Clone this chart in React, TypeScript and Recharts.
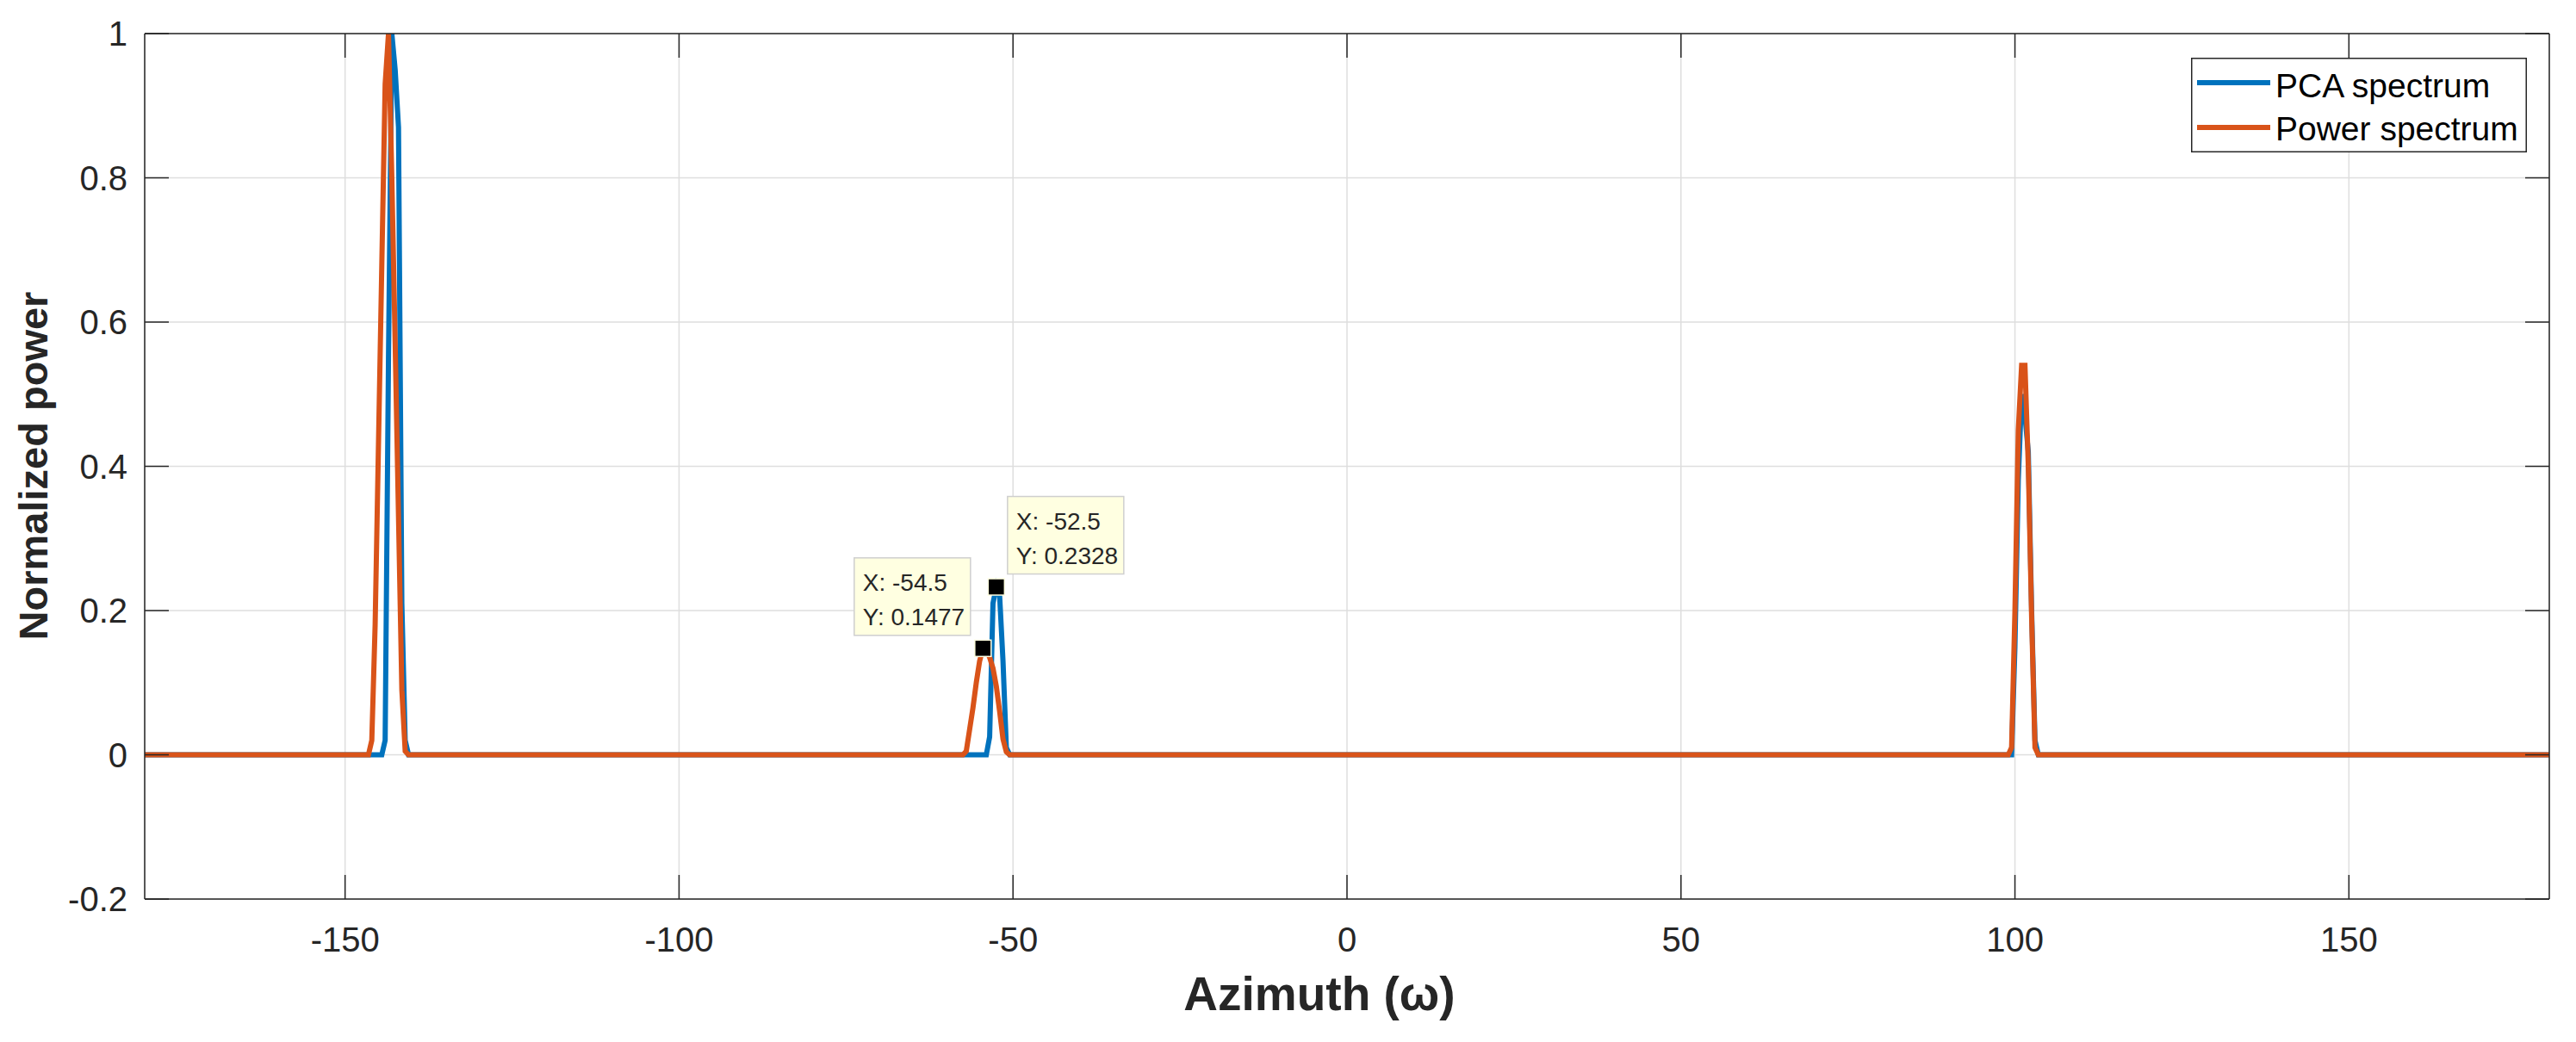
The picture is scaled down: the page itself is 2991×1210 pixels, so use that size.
import React from 'react';
import {
  LineChart,
  Line,
  XAxis,
  YAxis,
  CartesianGrid,
  Legend,
  ReferenceDot,
} from 'recharts';

const pcaAngles = [
  -180, -144.5, -144, -143.5, -143, -142.5, -142, -141.5, -141, -140.5,
  -54, -53.5, -53, -52.5, -52, -51.5, -51, -50.5,
  99.5, 100, 100.5, 101, 101.5, 102, 102.5, 103, 103.5, 180,
];
const pcaValues = [
  0, 0, 0.02, 0.55, 1.0, 0.95, 0.87, 0.21, 0.02, 0,
  0, 0.025, 0.21, 0.2328, 0.22, 0.13, 0.01, 0,
  0, 0.15, 0.38, 0.5, 0.47, 0.42, 0.2, 0.02, 0, 0,
];

const powerAngles = [
  -180, -146.5, -146, -145.5, -145, -144.5, -144, -143.5, -143, -142.5, -142, -141.5, -141, -140.5,
  -57.5, -57, -56.5, -56, -55.5, -55, -54.5, -54, -53.5, -53, -52.5, -52, -51.5, -51, -50.5,
  99, 99.5, 100, 100.5, 101, 101.5, 102, 102.5, 103, 103.5, 180,
];
const powerValues = [
  0, 0, 0.02, 0.18, 0.43, 0.68, 0.93, 1.0, 0.8, 0.57, 0.33, 0.09, 0.005, 0,
  0, 0.005, 0.035, 0.065, 0.1, 0.13, 0.1477, 0.145, 0.135, 0.12, 0.095, 0.06, 0.022, 0.004, 0,
  0, 0.01, 0.2, 0.45, 0.54, 0.54, 0.4, 0.19, 0.01, 0, 0,
];

const xTicks = [-150, -100, -50, 0, 50, 100, 150];
const yTicks = [-0.2, 0, 0.2, 0.4, 0.6, 0.8, 1];

const tipAngles = [-54.5, -52.5];
const tipValues = [0.1477, 0.2328];

const BLUE = '#0072BD';
const ORANGE = '#D95319';
const AXIS = '#262626';
const FONT = '"Liberation Sans", Arial, sans-serif';

const pcaData = pcaAngles.map((x, i) => ({ x, y: pcaValues[i] }));
const powerData = powerAngles.map((x, i) => ({ x, y: powerValues[i] }));

const DataTip = (props: any) => {
  const { cx, cy, tx, ty, side } = props;
  const w = 135;
  const h = 90;
  const bx = side === 'left' ? cx - 14.5 - w : cx + 13;
  const by = cy - 15 - h;
  return (
    <g>
      <rect x={bx} y={by} width={w} height={h} fill="#FFFFE1" stroke="#CFCFCF" strokeWidth={1.5} />
      <text x={bx + 10} y={by + 38} fontSize={28} fill={AXIS} fontFamily={FONT}>
        {`X: ${tx}`}
      </text>
      <text x={bx + 10} y={by + 78} fontSize={28} fill={AXIS} fontFamily={FONT}>
        {`Y: ${ty}`}
      </text>
      <rect x={cx - 9.5} y={cy - 9.5} width={19} height={19} fill="#000" stroke="#FFFFE1" strokeWidth={1.5} />
    </g>
  );
};

const LegendBox = () => (
  <svg width={390} height={110} style={{ display: 'block' }}>
    <rect x={0.75} y={0.75} width={388.5} height={108.5} fill="#fff" stroke={AXIS} strokeWidth={1.5} />
    <line x1={7} x2={92} y1={29} y2={29} stroke={BLUE} strokeWidth={6} />
    <text x={98} y={46} fontSize={39} fill="#000" fontFamily={FONT}>PCA spectrum</text>
    <line x1={7} x2={92} y1={81} y2={81} stroke={ORANGE} strokeWidth={6} />
    <text x={98} y={96} fontSize={39} fill="#000" fontFamily={FONT}>Power spectrum</text>
  </svg>
);

const tickStyle = { fontSize: 40, fill: AXIS, fontFamily: FONT };

export default function App() {
  return (
    <div style={{ position: 'absolute', left: 0, top: 0, width: 2991, height: 1210, background: '#fff' }}>
      <LineChart
        width={2991}
        height={1210}
        margin={{ top: 29, right: 21, bottom: 26, left: 48 }}
        style={{ fontFamily: FONT }}
      >
        <CartesianGrid stroke="#DEDEDE" strokeWidth={1.5} />
        <XAxis
          dataKey="x"
          type="number"
          domain={[-180, 180]}
          ticks={xTicks}
          allowDataOverflow
          height={140}
          tickSize={-28}
          tickMargin={61}
          tick={tickStyle}
          stroke={AXIS}
          strokeWidth={1.5}
          label={{
            content: (p: any) => {
              const vb = p.viewBox;
              return (
                <text
                  x={vb.x + vb.width / 2 - 32}
                  y={1173}
                  textAnchor="middle"
                  fontSize={55}
                  fontWeight="bold"
                  fill={AXIS}
                  fontFamily={FONT}
                >
                  Azimuth (ω)
                </text>
              );
            },
          }}
        />
        <XAxis
          xAxisId="top"
          orientation="top"
          type="number"
          dataKey="x"
          domain={[-180, 180]}
          ticks={xTicks}
          allowDataOverflow
          height={10}
          tickSize={-28}
          tickFormatter={() => ''}
          stroke={AXIS}
          strokeWidth={1.5}
        />
        <YAxis
          type="number"
          domain={[-0.2, 1]}
          ticks={yTicks}
          allowDataOverflow
          width={120}
          tickSize={-28}
          tickMargin={48}
          tick={tickStyle}
          stroke={AXIS}
          strokeWidth={1.5}
          label={{
            content: () => (
              <text
                x={55}
                y={541}
                transform="rotate(-90, 55, 541)"
                textAnchor="middle"
                fontSize={47}
                fontWeight="bold"
                fill={AXIS}
                fontFamily={FONT}
              >
                Normalized power
              </text>
            ),
          }}
        />
        <YAxis
          yAxisId="right"
          orientation="right"
          type="number"
          domain={[-0.2, 1]}
          ticks={yTicks}
          allowDataOverflow
          width={10}
          tickSize={-28}
          tickFormatter={() => ''}
          stroke={AXIS}
          strokeWidth={1.5}
        />
        <Line
          data={pcaData}
          dataKey="y"
          name="PCA spectrum"
          type="linear"
          stroke={BLUE}
          strokeWidth={6}
          dot={false}
          isAnimationActive={false}
        />
        <Line
          data={powerData}
          dataKey="y"
          name="Power spectrum"
          type="linear"
          stroke={ORANGE}
          strokeWidth={6}
          dot={false}
          isAnimationActive={false}
        />
        <ReferenceDot
          x={tipAngles[0]}
          y={tipValues[0]}
          shape={(p: any) => <DataTip {...p} tx={tipAngles[0]} ty={tipValues[0]} side="left" />}
        />
        <ReferenceDot
          x={tipAngles[1]}
          y={tipValues[1]}
          shape={(p: any) => <DataTip {...p} tx={tipAngles[1]} ty={tipValues[1]} side="right" />}
        />
        <Legend
          layout="vertical"
          align="center"
          verticalAlign="middle"
          content={() => <LegendBox />}
          wrapperStyle={{ left: 2544, top: 67, width: 390, height: 110 }}
        />
      </LineChart>
    </div>
  );
}
